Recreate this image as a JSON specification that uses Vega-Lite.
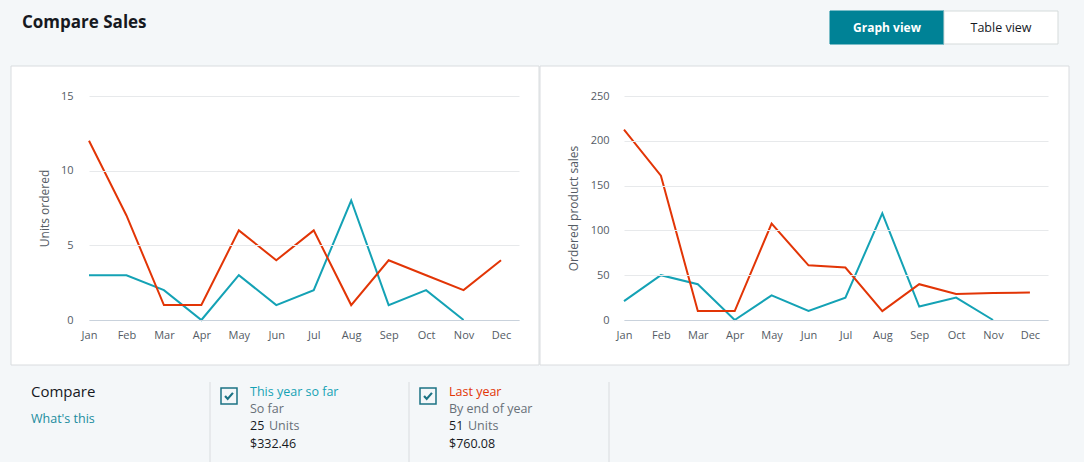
{
  "$schema": "https://vega.github.io/schema/vega-lite/v6.json",
  "background": "#f4f7f9",
  "padding": 0,
  "spacing": 0,
  "config": {
    "font": "Open Sans",
    "view": {"stroke": null},
    "concat": {"spacing": 0},
    "axis": {"labelFont": "Open Sans", "titleFont": "Open Sans"}
  },
  "datasets": {
    "monthly": [
      {"month": 1, "series": "This year so far", "units": 3, "sales": 21},
      {"month": 2, "series": "This year so far", "units": 3, "sales": 50},
      {"month": 3, "series": "This year so far", "units": 2, "sales": 40},
      {"month": 4, "series": "This year so far", "units": 0, "sales": 0},
      {"month": 5, "series": "This year so far", "units": 3, "sales": 27.5},
      {"month": 6, "series": "This year so far", "units": 1, "sales": 10},
      {"month": 7, "series": "This year so far", "units": 2, "sales": 25},
      {"month": 8, "series": "This year so far", "units": 8, "sales": 119},
      {"month": 9, "series": "This year so far", "units": 1, "sales": 15},
      {"month": 10, "series": "This year so far", "units": 2, "sales": 25},
      {"month": 11, "series": "This year so far", "units": 0, "sales": 0},
      {"month": 1, "series": "Last year", "units": 12, "sales": 212.5},
      {"month": 2, "series": "Last year", "units": 7, "sales": 161},
      {"month": 3, "series": "Last year", "units": 1, "sales": 9.99},
      {"month": 4, "series": "Last year", "units": 1, "sales": 9.99},
      {"month": 5, "series": "Last year", "units": 6, "sales": 107.5},
      {"month": 6, "series": "Last year", "units": 4, "sales": 61},
      {"month": 7, "series": "Last year", "units": 6, "sales": 58.5},
      {"month": 8, "series": "Last year", "units": 1, "sales": 9.99},
      {"month": 9, "series": "Last year", "units": 4, "sales": 40},
      {"month": 10, "series": "Last year", "units": 3, "sales": 29},
      {"month": 11, "series": "Last year", "units": 2, "sales": 30},
      {"month": 12, "series": "Last year", "units": 4, "sales": 30.6}
    ],
    "compare": [
      {"series": "This year so far", "note": "So far", "units": 25, "sales": "$332.46"},
      {"series": "Last year", "note": "By end of year", "units": 51, "sales": "$760.08"}
    ],
    "views": [
      {"view": "Graph view", "selected": true},
      {"view": "Table view", "selected": false}
    ]
  },
  "vconcat": [
    {
      "width": 995,
      "height": 65,
      "data": {"name": "views"},
      "layer": [
        {
          "data": {"values": [{}]},
          "mark": {"type": "text", "text": "Compare Sales", "fontSize": 17, "fontWeight": "bold", "color": "#16191f", "align": "left", "baseline": "alphabetic"},
          "encoding": {"x": {"value": -67}, "y": {"value": 28}}
        },
        {
          "mark": {"type": "rect", "strokeWidth": 1},
          "encoding": {
            "x": {"field": "view", "type": "nominal", "scale": {"domain": ["Graph view", "Table view"], "range": [741, 969], "paddingInner": 0, "paddingOuter": 0}, "axis": null},
            "y": {"value": 11},
            "y2": {"value": 44},
            "fill": {"condition": {"test": "datum.selected", "value": "#008296"}, "value": "#ffffff"},
            "stroke": {"condition": {"test": "datum.selected", "value": "#008296"}, "value": "#d5dbdb"}
          }
        },
        {
          "transform": [{"filter": "datum.selected"}],
          "mark": {"type": "text", "fontSize": 12, "fontWeight": "bold", "color": "#ffffff", "baseline": "middle", "align": "center"},
          "encoding": {
            "x": {"field": "view", "type": "nominal", "bandPosition": 0.5},
            "y": {"value": 28},
            "text": {"field": "view"}
          }
        },
        {
          "transform": [{"filter": "!datum.selected"}],
          "mark": {"type": "text", "fontSize": 12.5, "color": "#16191f", "baseline": "middle", "align": "center"},
          "encoding": {
            "x": {"field": "view", "type": "nominal", "bandPosition": 0.5},
            "y": {"value": 28},
            "text": {"field": "view"}
          }
        }
      ]
    },
    {
      "spacing": -1,
      "hconcat": [
        {
          "width": 430,
          "height": 224,
          "layer": [
            {
              "data": {"values": [{}]},
              "mark": {"type": "rect", "fill": "#ffffff", "opacity": 0},
              "encoding": {"x": {"value": -89}, "x2": {"value": 450}, "y": {"value": -30}, "y2": {"value": 269}}
            },
            {
              "data": {"values": [{}]},
              "mark": {"type": "rect", "fill": "#ffffff", "stroke": "#d9dcdf", "strokeWidth": 1},
              "encoding": {"x": {"value": -78}, "x2": {"value": 450}, "y": {"value": -30}, "y2": {"value": 269}}
            },
            {
              "data": {"name": "monthly"},
              "mark": {"type": "line", "strokeWidth": 2},
              "encoding": {
                "x": {
                  "field": "month", "type": "quantitative",
                  "scale": {"domain": [1, 12.48], "nice": false, "zero": false},
                  "axis": {
                    "values": [1, 2, 3, 4, 5, 6, 7, 8, 9, 10, 11, 12],
                    "labelExpr": "['Jan','Feb','Mar','Apr','May','Jun','Jul','Aug','Sep','Oct','Nov','Dec'][datum.value-1]",
                    "title": null, "grid": false, "ticks": false, "tickSize": 0,
                    "labelPadding": 9, "labelFontSize": 11, "labelColor": "#545b64",
                    "domainColor": "#c9d2dc", "labelFlush": false, "labelOverlap": false, "zindex": 1
                  }
                },
                "y": {
                  "field": "units", "type": "quantitative",
                  "scale": {"domain": [0, 15], "nice": false},
                  "axis": {
                    "values": [0, 5, 10, 15], "title": "Units ordered",
                    "titleFontWeight": "normal", "titleFontSize": 12, "titleColor": "#545b64",
                    "titleX": -45, "titleBaseline": "middle",
                    "domain": false, "ticks": false, "tickSize": 0, "labelPadding": 16,
                    "labelFontSize": 11, "labelColor": "#545b64",
                    "grid": true, "gridColor": "#e7e9eb", "zindex": 1
                  }
                },
                "color": {
                  "field": "series", "type": "nominal",
                  "scale": {"domain": ["This year so far", "Last year"], "range": ["#14a2b5", "#e23506"]},
                  "legend": null
                }
              }
            }
          ]
        },
        {
          "width": 424,
          "height": 224,
          "layer": [
            {
              "data": {"values": [{}]},
              "mark": {"type": "rect", "fill": "#ffffff", "stroke": "#d9dcdf", "strokeWidth": 1},
              "encoding": {"x": {"value": -84}, "x2": {"value": 445}, "y": {"value": -30}, "y2": {"value": 269}}
            },
            {
              "data": {"name": "monthly"},
              "mark": {"type": "line", "strokeWidth": 2},
              "encoding": {
                "x": {
                  "field": "month", "type": "quantitative",
                  "scale": {"domain": [1, 12.49], "nice": false, "zero": false},
                  "axis": {
                    "values": [1, 2, 3, 4, 5, 6, 7, 8, 9, 10, 11, 12],
                    "labelExpr": "['Jan','Feb','Mar','Apr','May','Jun','Jul','Aug','Sep','Oct','Nov','Dec'][datum.value-1]",
                    "title": null, "grid": false, "ticks": false, "tickSize": 0,
                    "labelPadding": 9, "labelFontSize": 11, "labelColor": "#545b64",
                    "domainColor": "#c9d2dc", "labelFlush": false, "labelOverlap": false, "zindex": 1
                  }
                },
                "y": {
                  "field": "sales", "type": "quantitative",
                  "scale": {"domain": [0, 250], "nice": false},
                  "axis": {
                    "values": [0, 50, 100, 150, 200, 250], "title": "Ordered product sales",
                    "titleFontWeight": "normal", "titleFontSize": 12, "titleColor": "#545b64",
                    "titleX": -51, "titleBaseline": "middle",
                    "domain": false, "ticks": false, "tickSize": 0, "labelPadding": 15,
                    "labelFontSize": 11, "labelColor": "#545b64",
                    "grid": true, "gridColor": "#e7e9eb", "zindex": 1
                  }
                },
                "color": {
                  "field": "series", "type": "nominal",
                  "scale": {"domain": ["This year so far", "Last year"], "range": ["#14a2b5", "#e23506"]},
                  "legend": null
                }
              }
            }
          ]
        }
      ]
    },
    {
      "width": 995,
      "height": 98,
      "data": {"name": "compare"},
      "layer": [
        {
          "data": {"values": [{}]},
          "mark": {"type": "text", "text": "Compare", "fontSize": 15, "color": "#16191f", "align": "left", "baseline": "middle"},
          "encoding": {"x": {"value": -58}, "y": {"value": 26}}
        },
        {
          "data": {"values": [{}]},
          "mark": {"type": "text", "text": "What's this", "fontSize": 12.5, "color": "#1a8c9e", "align": "left", "baseline": "middle"},
          "encoding": {"x": {"value": -58}, "y": {"value": 53}}
        },
        {
          "mark": {"type": "rule", "color": "#d9dcdf", "strokeWidth": 1},
          "encoding": {
            "x": {"field": "series", "type": "nominal", "scale": {"type": "point", "domain": ["This year so far", "Last year"], "range": [161, 360], "padding": 0}, "axis": null},
            "xOffset": {"value": -40},
            "y": {"value": 16},
            "y2": {"value": 98}
          }
        },
        {
          "transform": [{"filter": "datum.series === 'Last year'"}],
          "mark": {"type": "rule", "color": "#d9dcdf", "strokeWidth": 1},
          "encoding": {
            "x": {"field": "series", "type": "nominal"},
            "xOffset": {"value": 160},
            "y": {"value": 16},
            "y2": {"value": 98}
          }
        },
        {
          "mark": {"type": "point", "shape": "square", "size": 256, "filled": false, "stroke": "#1b7384", "strokeWidth": 1.5, "opacity": 1},
          "encoding": {
            "x": {"field": "series", "type": "nominal"},
            "xOffset": {"value": -21},
            "y": {"value": 30}
          }
        },
        {
          "mark": {"type": "point", "shape": "M-0.75,0 L-0.25,0.55 L0.75,-0.6", "size": 110, "filled": false, "stroke": "#1b7384", "strokeWidth": 2.2, "opacity": 1},
          "encoding": {
            "x": {"field": "series", "type": "nominal"},
            "xOffset": {"value": -21},
            "y": {"value": 30}
          }
        },
        {
          "mark": {"type": "text", "fontSize": 12.5, "align": "left", "baseline": "middle"},
          "encoding": {
            "x": {"field": "series", "type": "nominal"},
            "y": {"value": 26},
            "text": {"field": "series"},
            "color": {"field": "series", "type": "nominal", "legend": null}
          }
        },
        {
          "mark": {"type": "text", "fontSize": 12.5, "align": "left", "baseline": "middle", "color": "#687078"},
          "encoding": {
            "x": {"field": "series", "type": "nominal"},
            "y": {"value": 43},
            "text": {"field": "note"}
          }
        },
        {
          "mark": {"type": "text", "fontSize": 12.5, "align": "left", "baseline": "middle", "color": "#16191f"},
          "encoding": {
            "x": {"field": "series", "type": "nominal"},
            "y": {"value": 60},
            "text": {"field": "units", "type": "quantitative"}
          }
        },
        {
          "mark": {"type": "text", "text": "Units", "fontSize": 12.5, "align": "left", "baseline": "middle", "color": "#687078"},
          "encoding": {
            "x": {"field": "series", "type": "nominal"},
            "xOffset": {"value": 19},
            "y": {"value": 60}
          }
        },
        {
          "mark": {"type": "text", "fontSize": 12.5, "align": "left", "baseline": "middle", "color": "#16191f"},
          "encoding": {
            "x": {"field": "series", "type": "nominal"},
            "y": {"value": 78},
            "text": {"field": "sales"}
          }
        }
      ]
    }
  ]
}
